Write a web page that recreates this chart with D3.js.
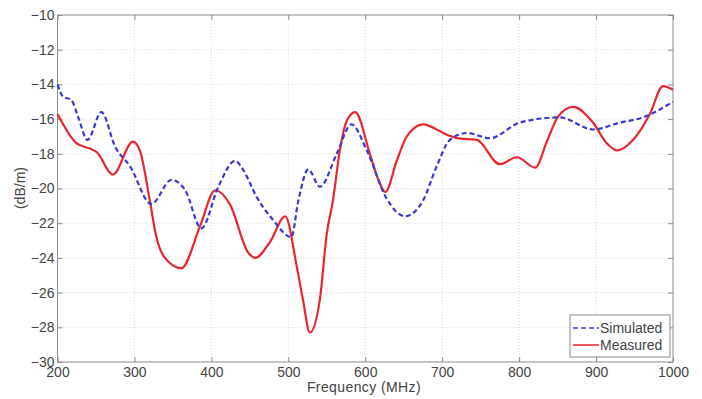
<!DOCTYPE html>
<html>
<head>
<meta charset="utf-8">
<script src="https://cdn.jsdelivr.net/npm/d3@7"></script>
<style>
  body { margin: 0; background: #fff; }
  svg { font-family: "Liberation Sans", Arial, sans-serif; }
</style>
</head>
<body>
<svg id="chart" width="702" height="399"></svg>
<script>
'use strict';

// chart data
let simFreq = [200, 207, 218, 227, 239, 257, 275, 294, 322, 348, 366, 387, 409, 431, 441, 459, 480, 504, 513, 526, 541, 563, 582, 602, 628, 652, 675, 693, 710, 732, 762, 801, 853, 896, 931, 961, 1000];
let simVals = [-14.0, -14.7, -14.9, -15.9, -17.2, -15.6, -17.6, -18.7, -20.9, -19.5, -20.1, -22.3, -19.9, -18.4, -18.9, -20.5, -21.8, -22.8, -20.7, -18.9, -19.9, -18.0, -16.3, -17.8, -20.6, -21.6, -20.7, -18.7, -17.2, -16.8, -17.1, -16.2, -15.9, -16.6, -16.2, -15.9, -15.0];

let measFreq = [200, 225, 242, 251, 272, 298, 307, 320, 328, 338, 361, 385, 405, 424, 448, 457, 476, 496, 511, 519, 528, 541, 550, 558, 567, 576, 587, 606, 617, 626, 641, 654, 675, 706, 719, 745, 775, 797, 821, 836, 850, 870, 896, 914, 927, 948, 970, 987, 1000];
let measVals = [-15.7, -17.4, -17.7, -17.9, -19.2, -17.3, -17.8, -20.7, -22.7, -23.9, -24.6, -22.2, -20.1, -20.9, -23.7, -24.0, -23.1, -21.6, -24.5, -26.4, -28.3, -26.4, -22.6, -20.7, -17.8, -16.1, -15.6, -18.0, -19.5, -20.2, -18.4, -17.0, -16.3, -16.9, -17.1, -17.2, -18.6, -18.2, -18.8, -17.3, -15.9, -15.3, -16.2, -17.4, -17.8, -17.2, -15.7, -14.1, -14.3];

let xTicks = [200, 300, 400, 500, 600, 700, 800, 900, 1000];
let yTicks = [-30, -28, -26, -24, -22, -20, -18, -16, -14, -12, -10];
let seriesNames = ["Simulated", "Measured"];

let svg = d3.select("#chart");
let pLeft = 57.5, pRight = 673, pTop = 15, pBottom = 362;

let x = d3.scaleLinear().domain([200, 1000]).range([pLeft, pRight]);
let y = d3.scaleLinear().domain([-30, -10]).range([pBottom, pTop]);

// grid
let grid = svg.append("g").attr("class", "grid");
grid.selectAll("line.gx")
    .data(xTicks.slice(1, -1))
    .enter().append("line")
    .attr("x1", d => x(d)).attr("x2", d => x(d))
    .attr("y1", pTop).attr("y2", pBottom)
    .style("stroke", "#d8d8d8").style("stroke-width", 1)
    .style("stroke-dasharray", "1,2");
grid.selectAll("line.gy")
    .data(yTicks.slice(1, -1))
    .enter().append("line")
    .attr("x1", pLeft).attr("x2", pRight)
    .attr("y1", d => y(d)).attr("y2", d => y(d))
    .style("stroke", "#d8d8d8").style("stroke-width", 1)
    .style("stroke-dasharray", "1,2");

// axes, ticks inside like matlab
let axisColor = "#8a8a8a";
let fontSize = "14px";
function styleAxis(g) {
    g.select(".domain").remove();
    g.selectAll(".tick line").style("stroke", axisColor);
    g.selectAll(".tick text").style("fill", "#444").style("font-size", fontSize);
}
svg.append("g").attr("transform", "translate(0," + pBottom + ")")
    .call(d3.axisBottom(x).tickValues(xTicks).tickFormat(d3.format("d")).tickSize(-5).tickPadding(5))
    .call(styleAxis);
svg.append("g").attr("transform", "translate(" + pLeft + ",0)")
    .call(d3.axisLeft(y).tickValues(yTicks).tickSize(-5).tickPadding(3))
    .call(styleAxis);
svg.append("g").attr("transform", "translate(0," + pTop + ")")
    .call(d3.axisTop(x).tickValues(xTicks).tickSize(-5).tickFormat(""))
    .call(styleAxis);
svg.append("g").attr("transform", "translate(" + pRight + ",0)")
    .call(d3.axisRight(y).tickValues(yTicks).tickSize(-5).tickFormat(""))
    .call(styleAxis);

svg.append("rect")
    .attr("x", pLeft).attr("y", pTop)
    .attr("width", pRight - pLeft).attr("height", pBottom - pTop)
    .style("fill", "none").style("stroke", axisColor).style("stroke-width", 1);

// lines
let line = d3.line()
    .x(d => x(d[0]))
    .y(d => y(d[1]))
    .curve(d3.curveMonotoneX);

let simData = simFreq.map((f, i) => [f, simVals[i]]);
let measData = measFreq.map((f, i) => [f, measVals[i]]);

svg.append("path")
    .datum(measData)
    .attr("d", line)
    .style("fill", "none")
    .style("stroke", "#e8262e")
    .style("stroke-width", 2.2);

svg.append("path")
    .datum(simData)
    .attr("d", line)
    .style("fill", "none")
    .style("stroke", "#3a3ad0")
    .style("stroke-width", 2.2)
    .style("stroke-dasharray", "5,3");

// axis labels
svg.append("text")
    .attr("x", 364).attr("y", 392)
    .attr("text-anchor", "middle")
    .style("font-size", fontSize).style("fill", "#444")
    .style("letter-spacing", "0.4px")
    .text("Frequency (MHz)");

svg.append("text")
    .attr("transform", "translate(25,188) rotate(-90)")
    .attr("text-anchor", "middle")
    .style("font-size", fontSize).style("fill", "#444")
    .text("(dB/m)");

// legend
let lg = svg.append("g").attr("transform", "translate(570,315)");
lg.append("rect")
    .attr("width", 100).attr("height", 42)
    .style("fill", "#fff").style("stroke", axisColor);
let legColors = ["#3a3ad0", "#e8262e"];
let legDash = ["5,3", null];
seriesNames.forEach(function(name, i) {
    let yy = 13 + i * 17;
    lg.append("line")
        .attr("x1", 3).attr("x2", 29)
        .attr("y1", yy).attr("y2", yy)
        .style("stroke", legColors[i])
        .style("stroke-width", 1.5)
        .style("stroke-dasharray", legDash[i]);
    lg.append("text")
        .attr("x", 30).attr("y", yy + 5)
        .style("font-size", fontSize).style("fill", "#444")
        .text(name);
});
</script>
</body>
</html>
